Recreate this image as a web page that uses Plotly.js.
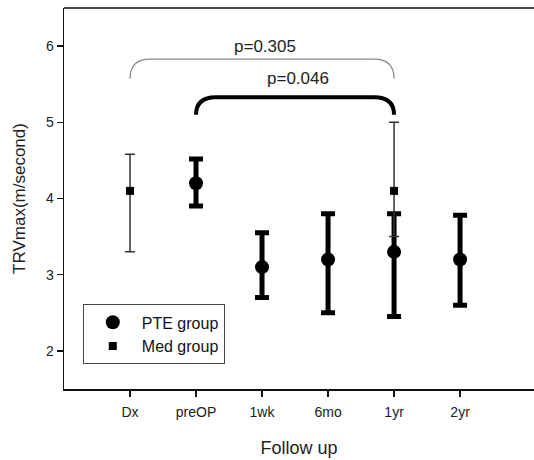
<!DOCTYPE html>
<html>
<head>
<meta charset="utf-8">
<script src="https://cdn.plot.ly/plotly-3.0.1.min.js"></script>
<style>html,body{margin:0;padding:0;background:#fff;overflow:hidden;}#chart{width:534px;height:460px;}</style>
</head>
<body>
<div id="chart"></div>
<script>
// Categories (follow-up time points)
const categories = ['Dx', 'preOP', '1wk', '6mo', '1yr', '2yr'];

// PTE group (circles)
const pteX = ['preOP', '1wk', '6mo', '1yr', '2yr'];
const pteMean = [4.2, 3.1, 3.2, 3.3, 3.2];
const pteUpper = [4.52, 3.55, 3.8, 3.8, 3.78];
const pteLower = [3.9, 2.7, 2.5, 2.45, 2.6];

// Med group (squares)
const medX = ['Dx', '1yr'];
const medMean = [4.1, 4.1];
const medUpper = [4.58, 5.0];
const medLower = [3.3, 3.5];

// Significance brackets
const bracketStart = [0, 1];      // category index
const bracketEnd = [4, 4];
const bracketTop = [5.83, 5.33];
const bracketFoot = [5.57, 5.1];
const pLabels = ['p=0.305', 'p=0.046'];
const pLabelX = [2.05, 2.55];
const pLabelY = [6.0, 5.57];

const up = (m, u) => u.map((v, i) => +(v - m[i]).toFixed(3));
const dn = (m, l) => l.map((v, i) => +(m[i] - v).toFixed(3));

const traces = [
  {
    name: 'PTE group', type: 'scatter', mode: 'markers',
    x: pteX, y: pteMean,
    marker: {symbol: 'circle', size: 14, color: '#000'},
    error_y: {type: 'data', symmetric: false, array: up(pteMean, pteUpper), arrayminus: dn(pteMean, pteLower),
              color: '#000', thickness: 5, width: 7}
  },
  {
    name: 'Med group', type: 'scatter', mode: 'markers',
    x: medX, y: medMean,
    marker: {symbol: 'square', size: 8, color: '#000'},
    error_y: {type: 'data', symmetric: false, array: up(medMean, medUpper), arrayminus: dn(medMean, medLower),
              color: '#333', thickness: 1.5, width: 5}
  }
];

const bracketStyles = [
  {color: '#888', width: 1.2},
  {color: '#000', width: 4}
];
const rx = 0.3;
const shapes = bracketStart.map((s, i) => {
  const e = bracketEnd[i], t = bracketTop[i], f = bracketFoot[i];
  const path = `M ${s},${f} Q ${s},${t} ${s + rx},${t} L ${e - rx},${t} Q ${e},${t} ${e},${f}`;
  return {type: 'path', xref: 'x', yref: 'y', path: path, line: bracketStyles[i], layer: 'above'};
});
// top frame line of the plot area
shapes.push({type: 'line', xref: 'paper', yref: 'paper', x0: 0, x1: 1, y0: 1, y1: 1,
             line: {color: '#111', width: 1.5}});

const annotations = pLabels.map((txt, i) => ({
  x: pLabelX[i], y: pLabelY[i], xref: 'x', yref: 'y', text: txt, showarrow: false,
  font: {size: 17, color: '#222', family: 'Liberation Sans, Arial, sans-serif'}
}));

const layout = {
  width: 534, height: 460,
  margin: {l: 64, r: 0, t: 8, b: 71, pad: 0},
  paper_bgcolor: '#fff', plot_bgcolor: '#fff',
  font: {family: 'Liberation Sans, Arial, sans-serif', color: '#222', size: 13},
  showlegend: true,
  legend: {
    x: 0.04, y: 0.222, xanchor: 'left', yanchor: 'top',
    bgcolor: '#fff', bordercolor: '#444', borderwidth: 1,
    font: {size: 16, color: '#111'}, itemwidth: 48, tracegroupgap: 0
  },
  xaxis: {
    type: 'category', categoryorder: 'array', categoryarray: categories,
    range: [-1, 6.12], showgrid: false, zeroline: false,
    showline: true, mirror: false, linecolor: '#111', linewidth: 1.5,
    ticks: 'outside', ticklen: 6, tickwidth: 1.5, tickcolor: '#111',
    ticklabelstandoff: 4,
    tickfont: {size: 14, color: '#222'},
    title: {text: 'Follow up', font: {size: 18, color: '#222'}, standoff: 22}
  },
  yaxis: {
    range: [1.5, 6.5], tickvals: [2, 3, 4, 5, 6], showgrid: false, zeroline: false,
    showline: true, mirror: false, linecolor: '#111', linewidth: 1.5,
    ticks: 'outside', ticklen: 6, tickwidth: 1.5, tickcolor: '#111',
    tickfont: {size: 14, color: '#222'},
    title: {text: 'TRVmax(m/second)', font: {size: 17, color: '#222'}, standoff: 16}
  },
  shapes: shapes,
  annotations: annotations
};

Plotly.newPlot('chart', traces, layout, {displayModeBar: false, staticPlot: true});
</script>
</body>
</html>
